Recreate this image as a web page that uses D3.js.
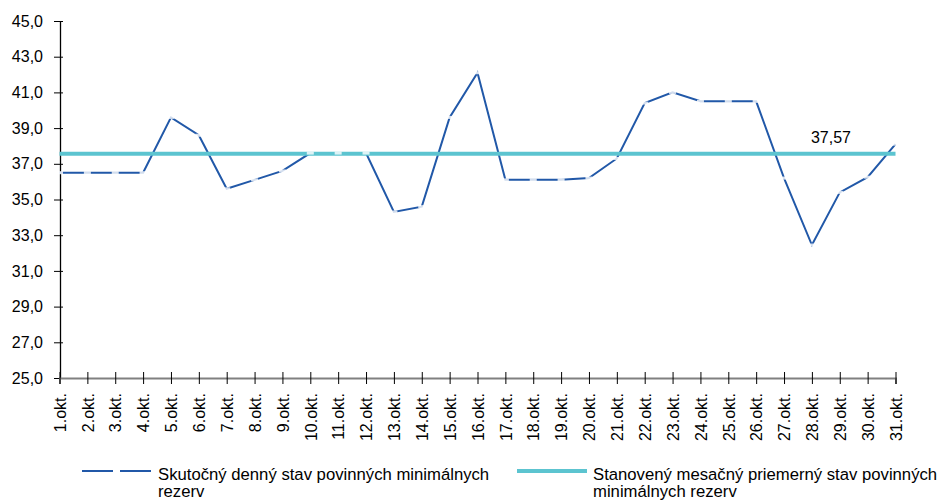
<!DOCTYPE html>
<html><head><meta charset="utf-8">
<script src="https://cdn.jsdelivr.net/npm/d3@7"></script>
<style>body{margin:0;background:#fff}svg{display:block;font-family:"Liberation Sans",Arial,sans-serif}</style>
</head><body><svg id="c" width="941" height="500"></svg>
<script>
const days = ["1.okt.","2.okt.","3.okt.","4.okt.","5.okt.","6.okt.","7.okt.","8.okt.","9.okt.","10.okt.","11.okt.","12.okt.","13.okt.","14.okt.","15.okt.","16.okt.","17.okt.","18.okt.","19.okt.","20.okt.","21.okt.","22.okt.","23.okt.","24.okt.","25.okt.","26.okt.","27.okt.","28.okt.","29.okt.","30.okt.","31.okt."];
const actual = [36.5,36.5,36.5,36.5,39.6,38.6,35.6,36.1,36.6,37.6,37.6,37.6,34.3,34.6,39.6,42.1,36.1,36.1,36.1,36.2,37.3,40.4,41.0,40.5,40.5,40.5,36.2,32.45,35.4,36.25,38.1];
const target = 37.57;
const yTicks = [25,27,29,31,33,35,37,39,41,43,45];
const seriesNames = ["Skutočný denný stav povinných minimálnych|rezerv","Stanovený mesačný priemerný stav povinných|minimálnych rezerv"];
const blue = "#2158a8", teal = "#5cc4d0";

const svg = d3.select("#c");
const x = d3.scalePoint().domain(days).range([59.5, 895.5]);
const y = d3.scaleLinear().domain([25,45]).range([378, 21]);

// y axis
const ya = svg.append("g").attr("transform","translate(60,0)")
  .call(d3.axisLeft(y).tickValues(yTicks).tickFormat(d=>d3.format(".1f")(d).replace(".",",")).tickSizeOuter(0).tickSizeInner(6).tickPadding(11));
ya.select(".domain").attr("stroke","#000").attr("stroke-width",1.3);
ya.selectAll(".tick line").attr("stroke","#000").attr("x2",3).attr("x1",-6);
ya.selectAll("text").attr("font-size","16px").attr("fill","#000").attr("font-family","Liberation Sans, Arial, sans-serif");

// x axis
const xa = svg.append("g").attr("transform","translate(0,378)")
  .call(d3.axisBottom(x).tickSizeOuter(0).tickSize(6));
xa.select(".domain").attr("stroke","#808080").attr("stroke-width",2);
xa.selectAll(".tick line").attr("stroke","#000").attr("y1",-6).attr("y2",6);
xa.selectAll("text").attr("font-size","16px").attr("fill","#000")
  .attr("font-family","Liberation Sans, Arial, sans-serif")
  .attr("transform","rotate(-90)").attr("text-anchor","end")
  .attr("x",-15).attr("y",0).attr("dy","0.36em");

// actual line
const line = d3.line().x((d,i)=>x(days[i])).y(d=>y(d));
svg.append("path").datum(actual).attr("d",line).attr("fill","none")
  .attr("stroke",blue).attr("stroke-width",2).attr("stroke-linejoin","miter");

// target line
svg.append("line").attr("x1",x(days[0])).attr("x2",x(days[days.length-1]))
  .attr("y1",y(target)).attr("y2",y(target)).attr("stroke",teal).attr("stroke-width",4);

// markers (white dashes)
svg.append("g").selectAll("rect").data(actual).join("rect")
  .attr("x",(d,i)=>x(days[i])-3.5).attr("y",d=>y(d)-1.5).attr("width",7).attr("height",3)
  .attr("fill","#fff").attr("opacity",0.8);

// target label
svg.append("text").attr("x",x(days[27])-1).attr("y",y(target)-11)
  .attr("font-size","16px").attr("fill","#000").text(d3.format(".2f")(target).replace(".",","));

// legend
const leg = svg.append("g").attr("font-size","16.7px").attr("fill","#000");
const lg1 = leg.append("g");
lg1.append("line").attr("x1",82).attr("x2",151).attr("y1",471).attr("y2",471).attr("stroke",blue).attr("stroke-width",2);
lg1.append("rect").attr("x",113).attr("y",469.5).attr("width",7).attr("height",3).attr("fill","#fff");
const l1 = seriesNames[0].split("|");
lg1.append("text").attr("x",158).attr("y",479.5).text(l1[0]);
lg1.append("text").attr("x",158).attr("y",497).text(l1[1]);
const lg2 = leg.append("g");
lg2.append("line").attr("x1",517).attr("x2",587).attr("y1",471).attr("y2",471).attr("stroke",teal).attr("stroke-width",4);
const l2 = seriesNames[1].split("|");
lg2.append("text").attr("x",593).attr("y",479.5).text(l2[0]);
lg2.append("text").attr("x",593).attr("y",497).text(l2[1]);
</script>
</body></html>
